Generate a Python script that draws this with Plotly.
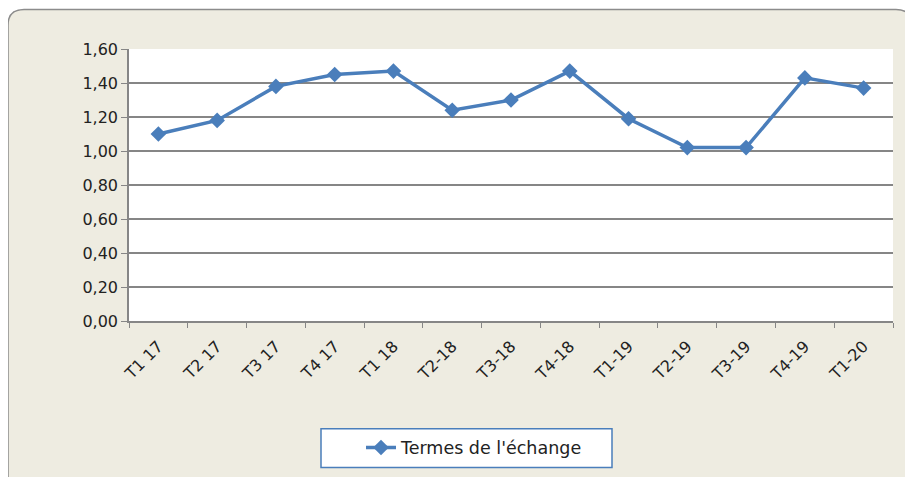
import plotly.graph_objects as go

categories = ["T1 17", "T2 17", "T3 17", "T4 17", "T1 18", "T2-18", "T3-18",
              "T4-18", "T1-19", "T2-19", "T3-19", "T4-19", "T1-20"]
termes_echange = [1.10, 1.18, 1.38, 1.45, 1.47, 1.24, 1.30, 1.47, 1.19, 1.02, 1.02, 1.43, 1.37]
y_ticks = [0.0, 0.2, 0.4, 0.6, 0.8, 1.0, 1.2, 1.4, 1.6]

OFF = 8  # default page body margin
W, H = 913 - OFF, 477 - OFF
L, R, T, B = 129 - OFF, 893 - OFF, 49 - OFF, 324 - OFF

def px(x):
    return (x - OFF - L) / (R - L)

def py(y):
    return (B - (y - OFF)) / (B - T)

FONT = "DejaVu Sans"

fig = go.Figure()
fig.add_trace(go.Scatter(
    x=categories, y=termes_echange, mode="lines+markers",
    name="Termes de l'échange",
    line=dict(color="#4A7EBB", width=3.5),
    marker=dict(symbol="diamond", size=12, color="#4A7EBB"),
))

# outer rounded frame
r = 16
x0, y0, x1, y1 = 8, 9, 912, 495
path = (f"M {px(x0+r)},{py(y0)} L {px(x1-r)},{py(y0)} "
        f"Q {px(x1)},{py(y0)} {px(x1)},{py(y0+r)} "
        f"L {px(x1)},{py(y1)} L {px(x0)},{py(y1)} L {px(x0)},{py(y0+r)} "
        f"Q {px(x0)},{py(y0)} {px(x0+r)},{py(y0)} Z")
shapes = [
    dict(type="path", xref="paper", yref="paper", path=path,
         fillcolor="#EEECE1", line=dict(color="#8C8C8C", width=1.5), layer="below"),
    dict(type="rect", xref="paper", yref="paper", x0=0, x1=1, y0=0, y1=1,
         fillcolor="white", line=dict(width=0), layer="below"),
    dict(type="rect", xref="paper", yref="paper", x0=px(321), x1=px(612), y0=py(472), y1=py(433),
         fillcolor="white", line=dict(color="#4A7EBB", width=1.5), layer="below"),
]

fig.update_layout(
    width=W, height=H,
    margin=dict(l=L, r=W - R, t=T, b=H - B),
    paper_bgcolor="white", plot_bgcolor="white",
    separators=", ",
    font=dict(family=FONT, color="#222222"),
    shapes=shapes,
    showlegend=True,
    legend=dict(x=px(361), y=py(452), xanchor="left", yanchor="middle",
                bgcolor="rgba(0,0,0,0)", borderwidth=0,
                font=dict(size=17.5, family=FONT, color="#222222")),
    xaxis=dict(type="category", tickangle=-45, ticks="outside", tickson="boundaries",
               ticklen=5, tickcolor="#868686", showline=True, linecolor="#868686",
               linewidth=1.5, showgrid=False, tickfont=dict(size=16, family=FONT),
               ticklabelstandoff=8,
               range=[-0.5, len(categories) - 0.5]),
    yaxis=dict(range=[0, 1.6], tickvals=y_ticks, tickformat=".2f", ticks="outside",
               ticklen=6, tickcolor="#868686", showline=True, linecolor="#868686",
               linewidth=1.5, showgrid=True, gridcolor="#868686", gridwidth=1.5,
               zeroline=False, tickfont=dict(size=16, family=FONT)),
)

fig.write_html("out.html")
